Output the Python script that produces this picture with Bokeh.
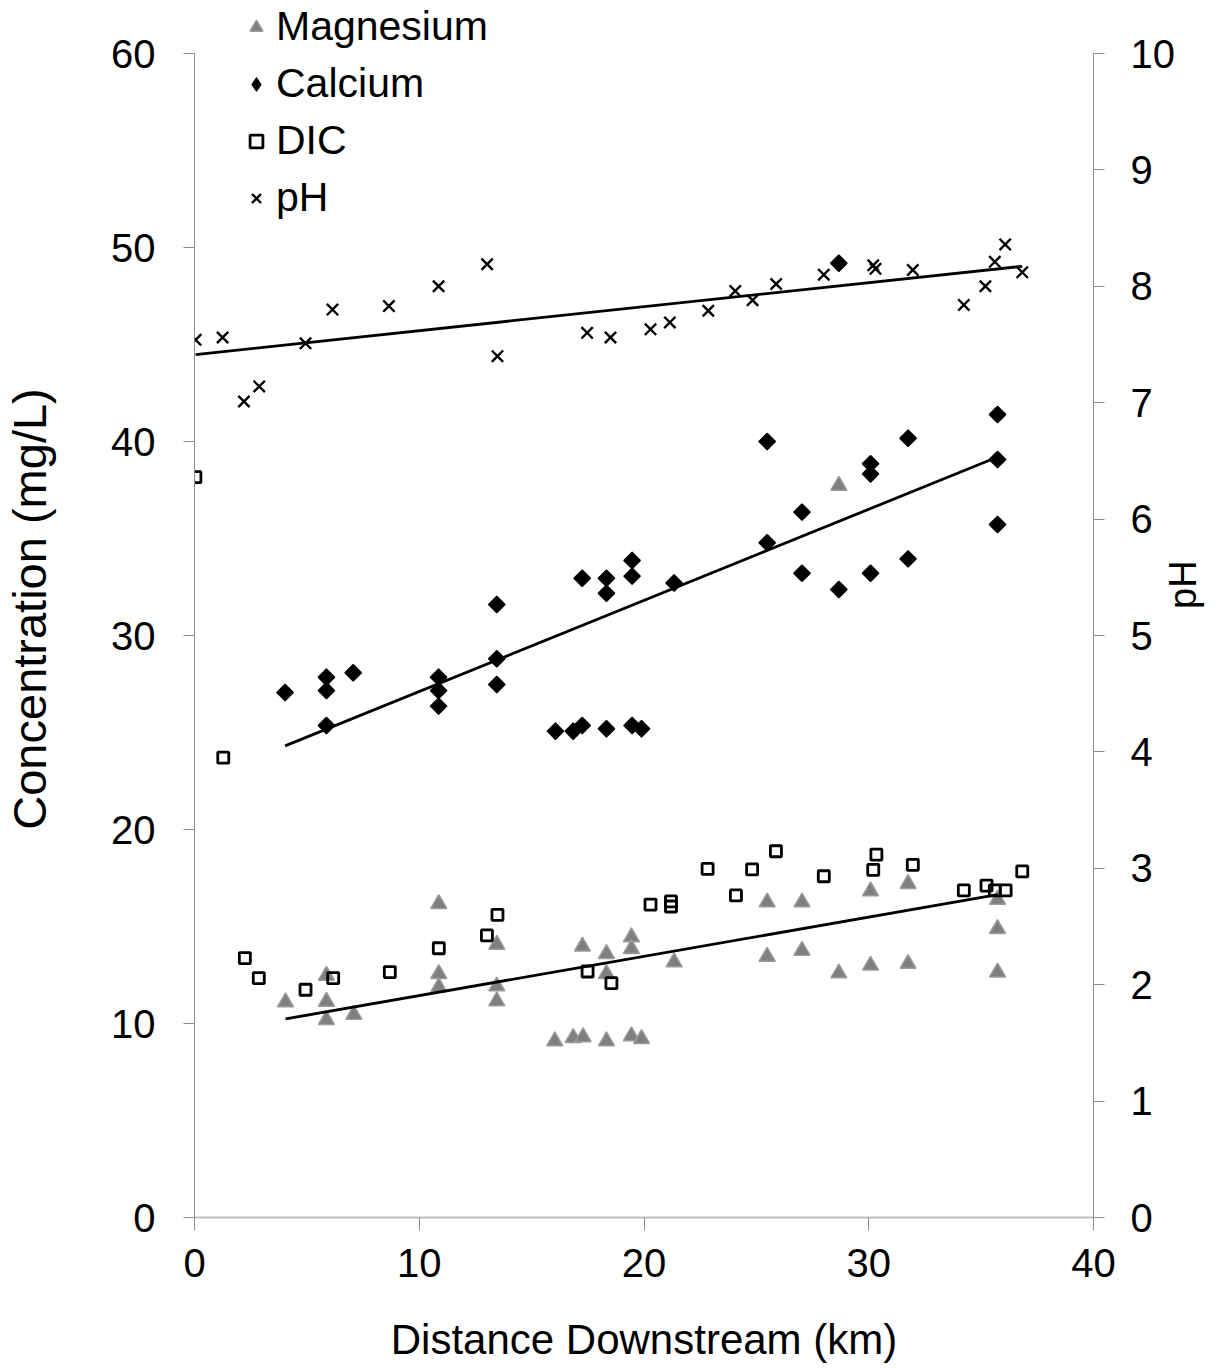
import numpy as np
from bokeh.plotting import figure
from bokeh.models import Range1d, LinearAxis, Legend, LegendItem, FixedTicker
from bokeh.embed import file_html
from bokeh.resources import INLINE

FONT = "Liberation Sans"

# ---------------- data ----------------
mg_x = [4.05, 5.87, 5.87, 5.87, 7.09, 10.87, 10.87, 10.87, 13.45, 13.45, 13.45, 16.03,
        16.85, 17.29, 17.26, 18.33, 18.33, 18.33, 19.44, 19.44, 19.44, 19.89, 21.34,
        25.48, 25.48, 27.03, 27.03, 28.67, 28.67, 30.08, 30.08, 31.75, 31.75, 35.73,
        35.73, 35.73]
mg_y = [11.1, 12.47, 11.13, 10.19, 10.46, 16.17, 12.56, 11.87, 14.07, 11.92, 11.15, 9.09,
        9.26, 9.3, 13.97, 13.59, 12.56, 9.09, 14.45, 13.85, 9.35, 9.21, 13.16,
        16.25, 13.45, 16.25, 13.76, 12.59, 37.73, 16.82, 12.99, 17.2, 13.08, 16.38,
        14.88, 12.64]

ca_x = [4.03, 5.87, 5.87, 5.87, 7.06, 10.86, 10.86, 10.86, 13.45, 13.45, 13.45, 16.06,
        16.85, 17.25, 17.25, 18.33, 18.33, 18.33, 19.47, 19.47, 19.47, 19.89, 21.34,
        25.48, 25.48, 27.03, 27.03, 28.67, 28.67, 30.08, 30.08, 30.08, 31.75, 31.75,
        35.73, 35.73, 35.73]
ca_y = [27.06, 27.85, 27.16, 25.36, 28.08, 27.85, 27.16, 26.36, 31.6, 28.8, 27.47, 25.07,
        25.07, 25.36, 32.95, 32.95, 32.18, 25.19, 33.87, 33.06, 25.36, 25.19, 32.71,
        40.0, 34.78, 36.36, 33.21, 32.37, 49.19, 38.85, 38.33, 33.21, 40.17, 33.95,
        41.39, 39.07, 35.72]

dic_x = [0.04, 1.28, 2.24, 2.86, 4.94, 6.17, 8.69, 10.87, 13.01, 13.48, 17.49, 18.55,
         20.29, 21.2, 21.2, 22.83, 24.09, 24.81, 25.87, 28.0, 30.2, 30.34, 31.96, 34.23,
         35.24, 35.61, 36.09, 36.83]
dic_y = [38.16, 23.7, 13.37, 12.34, 11.74, 12.34, 12.65, 13.88, 14.54, 15.6, 12.68, 12.08,
         16.13, 16.29, 16.03, 17.97, 16.6, 17.94, 18.88, 17.59, 17.92, 18.71, 18.18, 16.86,
         17.11, 16.86, 16.86, 17.84]

ph_x = [0.05, 1.25, 2.2, 2.88, 4.94, 6.14, 8.65, 10.86, 13.02, 13.48, 17.47, 18.51, 20.29,
        21.15, 22.86, 24.06, 24.83, 25.88, 28.0, 30.2, 30.3, 31.96, 34.23, 35.19, 35.61,
        36.07, 36.83]
ph_y = [7.54, 7.56, 7.01, 7.14, 7.51, 7.80, 7.83, 8.00, 8.19, 7.40, 7.60, 7.56, 7.63,
        7.69, 7.79, 7.96, 7.88, 8.02, 8.10, 8.18, 8.15, 8.14, 7.84, 8.00, 8.21,
        8.36, 8.12]

x_ticks = [0, 10, 20, 30, 40]
conc_ticks = [0, 10, 20, 30, 40, 50, 60]
ph_ticks = [0, 1, 2, 3, 4, 5, 6, 7, 8, 9, 10]

# axis extents; the frame reaches the top of the canvas so the legend fits above 60
X_MAX = 40
CONC_MAX = 60
PH_MAX = 10
TOP_PAD = 53.0 / 1164.0   # fraction of axis height left above the top tick

# ---------------- figure ----------------
p = figure(width=1230, height=1368, output_backend="svg", toolbar_location=None,
           x_range=Range1d(0, X_MAX), y_range=Range1d(0, CONC_MAX * (1 + TOP_PAD)),
           min_border_left=194, min_border_right=137, min_border_top=0,
           min_border_bottom=151)
p.outline_line_color = None
p.xgrid.grid_line_color = None
p.ygrid.grid_line_color = None
p.background_fill_color = "white"
p.border_fill_color = "white"
p.extra_y_ranges = {"ph": Range1d(0, PH_MAX * (1 + TOP_PAD))}

right_axis = LinearAxis(y_range_name="ph")
p.add_layout(right_axis, "right")

def style_axis(ax, ticks, tick_out, standoff, line_color, line_width, title_size):
    ax.ticker = FixedTicker(ticks=ticks)
    ax.major_tick_in = 0
    ax.major_tick_out = tick_out
    ax.minor_tick_line_color = None
    ax.axis_line_color = line_color
    ax.axis_line_width = line_width
    ax.major_tick_line_color = "#8c8c8c"
    ax.major_tick_line_width = 1
    ax.major_label_text_font = FONT
    ax.major_label_text_font_size = "40px"
    ax.major_label_text_color = "black"
    ax.major_label_standoff = standoff
    ax.axis_label_text_font = FONT
    ax.axis_label_text_font_size = title_size
    ax.axis_label_text_font_style = "normal"
    ax.axis_label_text_color = "black"

xa = p.xaxis[0]
ya = p.yaxis[0]
style_axis(xa, x_ticks, 13, 18, "#c0c0c0", 2, "42px")
style_axis(ya, conc_ticks, 11, 28, "#8c8c8c", 1, "47px")
style_axis(right_axis, ph_ticks, 11, 26, "#8c8c8c", 1, "38px")
xa.bounds = (0, X_MAX)
ya.bounds = (0, CONC_MAX)
right_axis.bounds = (0, PH_MAX)

xa.axis_label = "Distance Downstream (km)"
xa.axis_label_standoff = 36
ya.axis_label = "Concentration (mg/L)"
ya.axis_label_standoff = 52
right_axis.axis_label = "pH"
right_axis.axis_label_standoff = 5
try:
    right_axis.axis_label_orientation = np.pi / 2
except Exception:
    pass

# ---------------- series ----------------
r_mg = p.scatter(mg_x, mg_y, marker="triangle", size=16, fill_color="#7f7f7f",
                 line_color="#9a9a9a", line_width=1.5)
r_ca = p.scatter(ca_x, ca_y, marker="square", angle=np.pi / 4, size=11,
                 fill_color="black", line_color="black", line_width=2, line_join="round")
r_dic = p.scatter(dic_x, dic_y, marker="square", size=11, fill_color="white",
                  fill_alpha=0, line_color="black", line_width=2.8)
r_ph = p.scatter(ph_x, ph_y, marker="x", size=16, line_color="black", line_width=2.4,
                 y_range_name="ph")

# legend-only symbol for calcium (legend glyphs are drawn unrotated): same data,
# zero-size markers so nothing shows in the plot; the legend sizes its own glyph
r_ca_key = p.scatter(ca_x, ca_y, marker="diamond", size=0, fill_color="black",
                     line_color="black", line_width=1.5, line_join="round")

# linear trend lines (least squares over each series' range)
def trend(xs, ys):
    xs = np.asarray(xs, dtype=float)
    ys = np.asarray(ys, dtype=float)
    m, b = np.polyfit(xs, ys, 1)
    xx = np.array([xs.min(), xs.max()])
    return xx, m * xx + b

tx, ty = trend(ca_x, ca_y)
p.line(tx, ty, line_color="black", line_width=2.8)
tx, ty = trend(mg_x, mg_y)
p.line(tx, ty, line_color="black", line_width=2.8)
tx, ty = trend(ph_x, ph_y)
p.line(tx, ty, line_color="black", line_width=2.8, y_range_name="ph")

# ---------------- legend ----------------
legend = Legend(items=[LegendItem(label="Magnesium", renderers=[r_mg]),
                       LegendItem(label="Calcium", renderers=[r_ca_key]),
                       LegendItem(label="DIC", renderers=[r_dic]),
                       LegendItem(label="pH", renderers=[r_ph])],
                location=(46, 996), orientation="vertical",
                border_line_color=None, background_fill_alpha=0,
                padding=0, margin=0, spacing=10, glyph_width=32, glyph_height=32,
                label_standoff=4, label_text_font=FONT, label_text_font_size="41px",
                label_text_color="black")
p.add_layout(legend, "center")

open("out.html", "w").write(file_html(p, INLINE))
